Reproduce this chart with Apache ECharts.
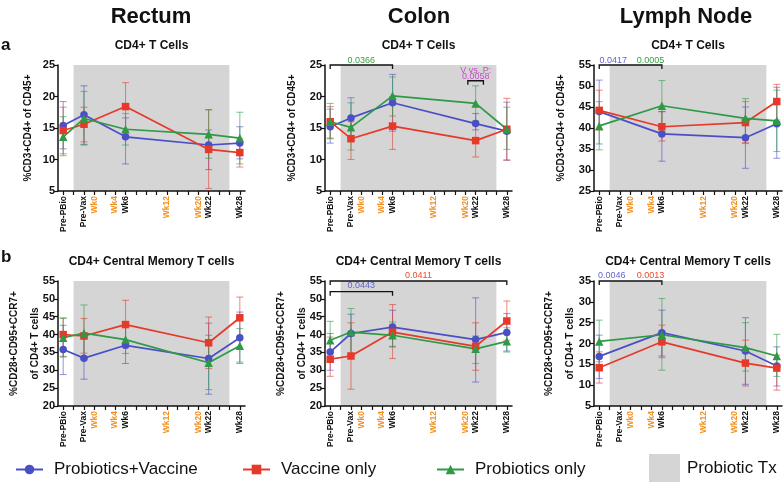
<!DOCTYPE html>
<html><head><meta charset="utf-8">
<script src="https://cdn.jsdelivr.net/npm/echarts@6/dist/echarts.min.js"></script>
<style>html,body{margin:0;padding:0;background:#fff}#c{width:784px;height:490px}</style>
</head><body><div id="c"></div>
<script>
// ---------- axis categories ----------
const tickLabels = ['Pre-PBio','','Pre-Vax','Wk0','','Wk4','Wk6','','','','Wk12','','','Wk20','Wk22','','','Wk28'];
const orangeLabels = ['Wk0','Wk4','Wk12','Wk20'];
const labelIdx = [0,2,3,5,6,10,13,14,17];
const txRange = [1,16];           // probiotic treatment window (tick index)
const tpFull = [0,2,6,14,17];     // Pre-PBio, Pre-Vax, Wk6, Wk22, Wk28
const tpLN = [0,6,14,17];         // Pre-PBio, Wk6, Wk22, Wk28

const groups = ['Probiotics+Vaccine','Vaccine only','Probiotics only'];

// ---------- data: [mean, lower, upper] ----------
const rectA_pv = [[15.4,11.7,19.2],[17.1,12.3,21.7],[13.6,9.3,16.6],[12.3,8.4,14.7],[12.6,10.1,15.2]];
const rectA_v  = [[14.6,10.9,18.3],[15.6,12.8,18.3],[18.4,14.5,22.2],[11.6,5.4,17.9],[11.1,8.8,13.3]];
const rectA_p  = [[13.6,10.6,16.8],[16.5,12.4,20.8],[14.8,12.3,17.3],[14.0,10.2,17.9],[13.4,9.3,17.5]];

const colonA_pv = [[15.2,12.6,18.0],[16.6,13.4,19.8],[19.0,14.5,23.5],[15.7,14.7,17.3],[14.5,9.9,19.1]];
const colonA_v  = [[16.0,13.4,18.4],[13.3,10.0,16.0],[15.3,11.6,20.0],[13.0,10.4,15.5],[14.8,9.9,19.7]];
const colonA_p  = [[16.0,13.3,18.9],[15.1,11.5,19.0],[20.1,16.9,23.1],[18.9,16.1,21.7],[14.8,11.6,18.3]];

const lnA_pv = [[43.9,36.2,51.4],[38.6,32.1,43.9],[37.7,30.4,45.0],[41.0,32.8,49.7]];
const lnA_v  = [[44.2,39.5,49.0],[40.3,36.9,43.9],[41.3,36.5,46.3],[46.3,41.9,50.4]];
const lnA_p  = [[40.5,34.8,46.3],[45.3,39.1,51.3],[42.3,36.3,47.0],[41.7,34.4,49.0]];

const rectB_pv = [[35.8,28.8,42.6],[33.4,27.5,39.8],[37.0,31.9,43.1],[33.3,23.3,43.2],[39.1,31.9,46.3]];
const rectB_v  = [[40.0,33.7,44.7],[39.6,34.8,44.5],[42.8,36.3,49.6],[37.7,30.5,44.9],[44.7,38.9,50.5]];
const rectB_p  = [[39.1,33.9,44.5],[40.4,33.0,48.3],[38.6,34.7,42.7],[32.1,24.6,39.8],[36.9,32.3,41.7]];

const colonB_pv = [[35.1,30.0,40.3],[40.3,34.7,45.7],[42.1,36.7,46.8],[38.6,26.7,50.3],[40.6,35.4,45.9]];
const colonB_v  = [[33.1,28.3,39.3],[34.0,24.7,43.3],[40.7,33.3,48.4],[36.7,30.0,43.3],[43.8,38.4,49.4]];
const colonB_p  = [[38.4,33.3,43.7],[40.7,34.2,47.3],[39.8,36.5,43.5],[36.0,31.9,39.6],[38.1,35.1,41.9]];

const lnB_pv = [[16.9,11.6,22.0],[22.6,17.0,28.0],[18.2,10.2,26.2],[14.6,9.8,19.2]];
const lnB_v  = [[14.2,10.5,18.0],[20.4,16.6,24.4],[15.3,9.8,20.8],[14.1,8.8,17.2]];
const lnB_p  = [[20.5,15.6,25.6],[22.1,13.6,30.8],[19.0,13.4,25.0],[17.0,12.1,22.2]];

// ---------- significance annotations ----------
// brackets: [x1, x2, y]; p-values: [x, y(text centre), text, colourKey]
const colonA_brackets = [[0,6,25],[13.25,14.75,22.5]];
const colonA_pvals = [[3,25.68,'0.0366','g'],[14,24.2,'V vs. P:','m'],[14,23.17,'0.0058','m']];
const lnA_brackets = [[0,6,55]];
const lnA_pvals = [[1.35,56.02,'0.0417','b'],[4.9,56.02,'0.0005','g']];
const colonB_brackets = [[0,17,55],[0,6,52]];
const colonB_pvals = [[8.5,56.62,'0.0411','r'],[3,53.63,'0.0443','b']];
const lnB_brackets = [[0,6,35]];
const lnB_pvals = [[1.2,36.39,'0.0046','b'],[4.9,36.39,'0.0013','r']];

// ---------- styling ----------
const FONT = 'Liberation Sans, Arial, Helvetica, sans-serif';
const colors = ['#4a4fc6','#e6392a','#2e9a45'];
const errColors = ['rgba(74,79,198,0.55)','rgba(230,57,42,0.55)','rgba(46,154,69,0.55)'];
const symbols = ['circle','rect','triangle'];
const symbolSizes = [7.5,7.5,8.5];
const pColors = {g:'#35a040', b:'#6264d0', r:'#ec4a2e', m:'#c44fc6'};
const shadeColor = '#d5d5d5';

const panels = [
  {grid:{left:58, top:65, width:187, height:126}, y:[5,25], title:'CD4+ T Cells', yname:'%CD3+CD4+ of CD45+', gap:18, tp:tpFull, data:[rectA_pv,rectA_v,rectA_p]},
  {grid:{left:325, top:65, width:187, height:126}, y:[5,25], title:'CD4+ T Cells', yname:'%CD3+CD4+ of CD45+', gap:22, tp:tpFull, data:[colonA_pv,colonA_v,colonA_p], br:colonA_brackets, pv:colonA_pvals},
  {grid:{left:594, top:65, width:188, height:126}, y:[25,55], title:'CD4+ T Cells', yname:'%CD3+CD4+ of CD45+', gap:22, tp:tpLN, data:[lnA_pv,lnA_v,lnA_p], br:lnA_brackets, pv:lnA_pvals},
  {grid:{left:58, top:281, width:187, height:125}, y:[20,55], title:'CD4+ Central Memory T cells', yname:'%CD28+CD95+CCR7+\nof CD4+ T cells', gap:12, noMove:true, tp:tpFull, data:[rectB_pv,rectB_v,rectB_p]},
  {grid:{left:325, top:281, width:187, height:125}, y:[20,55], title:'CD4+ Central Memory T cells', yname:'%CD28+CD95+CCR7+\nof CD4+ T cells', gap:12, noMove:true, tp:tpFull, data:[colonB_pv,colonB_v,colonB_p], br:colonB_brackets, pv:colonB_pvals},
  {grid:{left:594, top:281, width:188, height:125}, y:[5,35], title:'CD4+ Central Memory T cells', yname:'%CD28+CD95+CCR7+\nof CD4+ T cells', gap:13, noMove:true, tp:tpLN, data:[lnB_pv,lnB_v,lnB_p], br:lnB_brackets, pv:lnB_pvals}
];

const grids = [], xAxes = [], yAxes = [], series = [], graphics = [];
const tickIdx = tickLabels.map((_, i) => i);
const axisLineStyle = {color:'#111', width:1.5};

panels.forEach((p, i) => {
  grids.push(Object.assign({containLabel:false, outerBoundsMode:'none'}, p.grid));
  xAxes.push({
    type:'value', gridIndex:i, min:-0.5, max:17.5,
    axisLine:{show:true, onZero:false, lineStyle:axisLineStyle},
    axisTick:{show:true, customValues:tickIdx, length:4, lineStyle:{color:'#111', width:1.2}},
    axisLabel:{customValues:labelIdx, rotate:90, margin:5,
      formatter: v => { const t = tickLabels[Math.round(v)] || ''; return orangeLabels.includes(t) ? '{o|'+t+'}' : '{k|'+t+'}'; },
      rich:{o:{color:'#f39221', fontWeight:'bold', fontSize:8.5, fontFamily:FONT}, k:{color:'#111', fontWeight:'bold', fontSize:8.5, fontFamily:FONT}}},
    splitLine:{show:false}
  });
  yAxes.push({
    type:'value', gridIndex:i, min:p.y[0], max:p.y[1], interval:5,
    axisLine:{show:true, onZero:false, lineStyle:axisLineStyle},
    axisTick:{show:true, length:4, lineStyle:{color:'#111', width:1.2}},
    axisLabel:{fontSize:11, fontWeight:'bold', color:'#111', margin:3, fontFamily:FONT},
    splitLine:{show:false},
    name:p.yname, nameLocation:'middle', nameRotate:90, nameGap:p.gap,
    nameMoveOverlap: p.noMove ? false : true,
    nameTextStyle:{fontSize:10, fontWeight:'bold', color:'#111', fontFamily:FONT, lineHeight:21}
  });
  // grey probiotic treatment window
  series.push({
    type:'custom', name:'Probiotic Tx', xAxisIndex:i, yAxisIndex:i, z:0, silent:true,
    itemStyle:{color:shadeColor},
    data:[[txRange[0], txRange[1]]],
    renderItem:(params, api) => {
      const cs = params.coordSys;
      const a = api.coord([api.value(0), p.y[0]]);
      const b = api.coord([api.value(1), p.y[0]]);
      return {type:'rect', shape:{x:a[0], y:cs.y, width:b[0]-a[0], height:cs.height}, style:{fill:shadeColor}};
    }
  });
  // lines + error bars
  p.data.forEach((arr, g) => {
    series.push({
      type:'line', name:groups[g], xAxisIndex:i, yAxisIndex:i, z:3,
      data:arr.map((d, k) => [p.tp[k], d[0]]),
      symbol:symbols[g], symbolSize:symbolSizes[g], showAllSymbol:true,
      lineStyle:{color:colors[g], width:1.7}, itemStyle:{color:colors[g]},
      emphasis:{disabled:true}, animation:false
    });
    series.push({
      type:'custom', xAxisIndex:i, yAxisIndex:i, z:2, silent:true,
      data:arr.map((d, k) => [p.tp[k], d[1], d[2]]),
      renderItem:(params, api) => {
        const x = api.value(0);
        const lo = api.coord([x, api.value(1)]), hi = api.coord([x, api.value(2)]);
        const w = 3.5, st = {stroke:errColors[g], lineWidth:1.1};
        return {type:'group', children:[
          {type:'line', shape:{x1:lo[0], y1:lo[1], x2:hi[0], y2:hi[1]}, style:st},
          {type:'line', shape:{x1:lo[0]-w, y1:lo[1], x2:lo[0]+w, y2:lo[1]}, style:st},
          {type:'line', shape:{x1:hi[0]-w, y1:hi[1], x2:hi[0]+w, y2:hi[1]}, style:st}
        ]};
      }
    });
  });
  if (p.br) {
    series.push({
      type:'custom', xAxisIndex:i, yAxisIndex:i, z:5, silent:true, clip:false,
      data:p.br.map(b => [b[0], b[2], b[1]]),
      renderItem:(params, api) => {
        const a = api.coord([api.value(0), api.value(1)]);
        const b = api.coord([api.value(2), api.value(1)]);
        return {type:'polyline', shape:{points:[[a[0], a[1]+4],[a[0], a[1]],[b[0], b[1]],[b[0], b[1]+4]]}, style:{stroke:'#111', lineWidth:1.3, fill:null}};
      }
    });
    series.push({
      type:'custom', xAxisIndex:i, yAxisIndex:i, z:5, silent:true, clip:false,
      data:p.pv.map(t => [t[0], t[1]]),
      renderItem:(params, api) => {
        const t = p.pv[params.dataIndex];
        const c = api.coord([api.value(0), api.value(1)]);
        return {type:'text', x:c[0], y:c[1], style:{text:t[2], fill:pColors[t[3]], font:'9px '+FONT, align:'center', verticalAlign:'middle'}};
      }
    });
  }
  graphics.push({type:'text', x:p.grid.left + p.grid.width/2, y:p.grid.top - 19,
    style:{text:p.title, font:'bold 12px '+FONT, fill:'#111', align:'center', verticalAlign:'middle'}});
});

// headings
[['Rectum',151],['Colon',419],['Lymph Node',686]].forEach(h => {
  graphics.push({type:'text', x:h[1], y:17, style:{text:h[0], font:'bold 22px '+FONT, fill:'#111', align:'center', verticalAlign:'middle'}});
});
graphics.push({type:'text', x:1, y:45, style:{text:'a', font:'bold 17px '+FONT, fill:'#111', verticalAlign:'middle'}});
graphics.push({type:'text', x:1, y:257, style:{text:'b', font:'bold 17px '+FONT, fill:'#111', verticalAlign:'middle'}});

const legendBase = {top:456, itemHeight:12, itemWidth:27, textStyle:{fontSize:17, color:'#111', fontFamily:FONT, padding:[0,0,0,6]}};
const legends = [
  Object.assign({}, legendBase, {left:10, data:[groups[0]]}),
  Object.assign({}, legendBase, {left:237, data:[groups[1]]}),
  Object.assign({}, legendBase, {left:431, data:[groups[2]]}),
  Object.assign({}, legendBase, {left:644, top:449, itemWidth:31, itemHeight:28, data:[{name:'Probiotic Tx', icon:'rect'}], textStyle:{fontSize:17, color:'#111', fontFamily:FONT, padding:[0,0,0,2]}})
];

const chart = echarts.init(document.getElementById('c'));
chart.setOption({
  animation:false,
  grid:grids, xAxis:xAxes, yAxis:yAxes, series:series,
  legend:legends, graphic:graphics
});
</script></body></html>
